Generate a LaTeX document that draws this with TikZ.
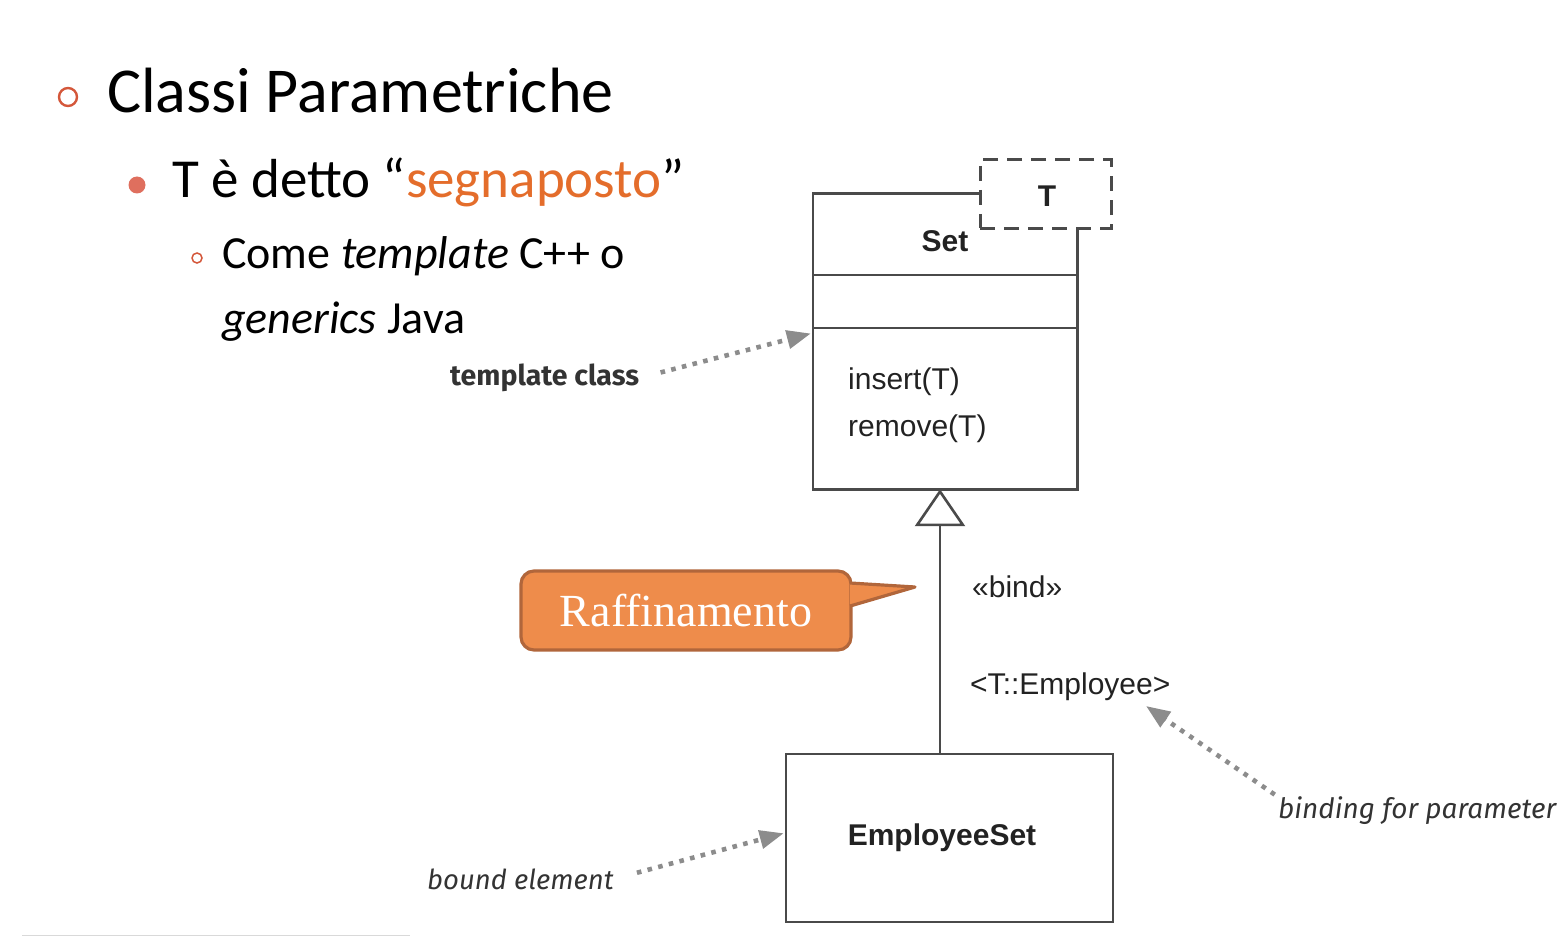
\documentclass[tikz,border=0pt]{standalone}
\usepackage{fontspec}
\setmainfont{Carlito}
\newfontfamily\umlfont{Liberation Sans}
\newfontfamily\notefont{Fira Sans}
\newfontfamily\calloutfont{Liberation Serif}
\usetikzlibrary{arrows.meta,calc}

\definecolor{bulletred}{HTML}{D4573A}
\definecolor{bulletsalmon}{HTML}{DF6F5E}
\definecolor{segorange}{HTML}{E46D2B}
\definecolor{umlgray}{HTML}{4A4A4A}
\definecolor{umltextcol}{HTML}{222222}
\definecolor{notegray}{HTML}{8C8C8C}
\definecolor{notetext}{HTML}{333333}
\definecolor{calloutfill}{HTML}{EE8C4B}
\definecolor{calloutedge}{HTML}{B1663B}

\tikzset{
  slidetext/.style={anchor=base west, inner sep=0pt},
  umlline/.style={draw=umlgray, line width=2.6pt},
  umllabel/.style={inner sep=0pt, text=umltextcol, font=\umlfont\fontsize{30}{36}\selectfont},
  umlbold/.style={umllabel, font=\umlfont\bfseries\fontsize{30}{36}\selectfont},
  notelabel/.style={inner sep=0pt, text=notetext},
  notearrow/.style={draw=notegray, line width=4.6pt, dash pattern=on 4.6pt off 6.4pt,
    -{Triangle[length=24pt,width=18pt,fill=notegray]}},
  calloutbox/.style={draw=calloutedge, fill=calloutfill, line width=3.2pt,
    rounded corners=13pt, minimum width=330pt, minimum height=79pt,
    text=white, font=\calloutfont\fontsize{46}{52}\selectfont}
}

\begin{document}
\begin{tikzpicture}[x=1pt,y=-1pt]
  \useasboundingbox (0,0) rectangle (1568,936);

  % ---- bullet list ----
  \draw[bulletred, line width=2.4pt] (68,97) circle (9);
  \node[slidetext, font=\fontsize{64}{76}\selectfont] (title) at (107,113) {Classi Parametriche};

  \fill[bulletsalmon] (137,185) circle (8.5);
  \node[slidetext, font=\fontsize{55}{66}\selectfont] (item) at (172,197)
    {T è detto “\textcolor{segorange}{segnaposto}”};

  \draw[bulletred, line width=1.5pt] (197,258) circle (5);
  \node[slidetext, font=\fontsize{46}{55}\selectfont] (subA) at (222,268)
    {Come \textit{template} C++ o};
  \node[slidetext, font=\fontsize{46}{55}\selectfont] (subB) at (222,333)
    {\textit{generics} Java};

  % ---- template class Set with parameter T ----
  \node[minimum width=264pt, minimum height=295pt, inner sep=0pt] (set) at (945,341.5) {};
  \node[draw=umlgray, line width=3pt, dash pattern=on 15pt off 9pt,
        minimum width=131pt, minimum height=68pt, inner sep=0pt] (tbox) at (1045.5,194) {};
  \node[umlbold] (tname) at (1047,196) {T};
  \draw[umlline] (tbox.west |- set.north) -- (set.north west) -- (set.south west)
    -- (set.south east) -- (set.east |- tbox.south);
  \draw[umlline] (set.west |- 0,275) -- (set.east |- 0,275);
  \draw[umlline] (set.west |- 0,328) -- (set.east |- 0,328);
  \node[umlbold] (setname) at (945,241) {Set};
  \node[umllabel, anchor=base west] (opA) at (848,389) {insert(T)};
  \node[umllabel, anchor=base west] (opB) at (848,436) {remove(T)};

  % ---- bound element ----
  \node[draw=umlgray, line width=2.6pt, minimum width=327pt, minimum height=168pt,
        inner sep=0pt] (emp) at (949.5,838) {};
  \node[umlbold] (empname) at (942,838) {EmployeeSet};

  % ---- bind relation ----
  \coordinate (genx) at (940,0);
  \draw[draw=umlgray, line width=2.6pt,
        -{Triangle[open, length=37pt, width=50pt, fill=white]}]
    (genx |- emp.north) -- (genx |- set.south);
  \node[umllabel, anchor=base west] (bind) at (972,597) {«bind»};
  \node[umllabel, anchor=base west] (tparam) at (970,694) {<T::Employee>};

  % ---- annotations ----
  \node[notelabel, anchor=west, font=\notefont\bfseries\fontsize{28.5}{32}\selectfont]
    (tc) at (450,378) {template class};
  \draw[notearrow, shorten <=22pt, shorten >=2pt] (tc.east) -- (set.west |- 0,333);

  \node[notelabel, anchor=west, font=\notefont\itshape\fontsize{27.5}{32}\selectfont]
    (be) at (427,879) {bound element};
  \draw[notearrow, shorten <=24pt, shorten >=1pt] (be.east) -- (emp.west |- 0,833);

  \coordinate (bindTip) at (1146,706);
  \node[notelabel, anchor=west, font=\notefont\itshape\fontsize{28}{32}\selectfont]
    (bfp) at (1278,811) {binding for parameter};
  \draw[notearrow, shorten <=4pt] (bfp.north west) -- (bindTip);

  % ---- callout ----
  \node[calloutbox] (raff) at (686,610.5) {Raffinamento};
  \coordinate (raffTip) at (915,587);
  \filldraw[fill=calloutfill, draw=calloutedge, line width=3.2pt, line join=round]
    ($(raff.east)+(-2.5,-27.5)$) -- (raffTip) -- ($(raff.east)+(-2.5,-4.5)$);

  % faint rule at the lower left
  \draw[black!15, line width=1pt] (22,935) -- (410,935);
\end{tikzpicture}
\end{document}
